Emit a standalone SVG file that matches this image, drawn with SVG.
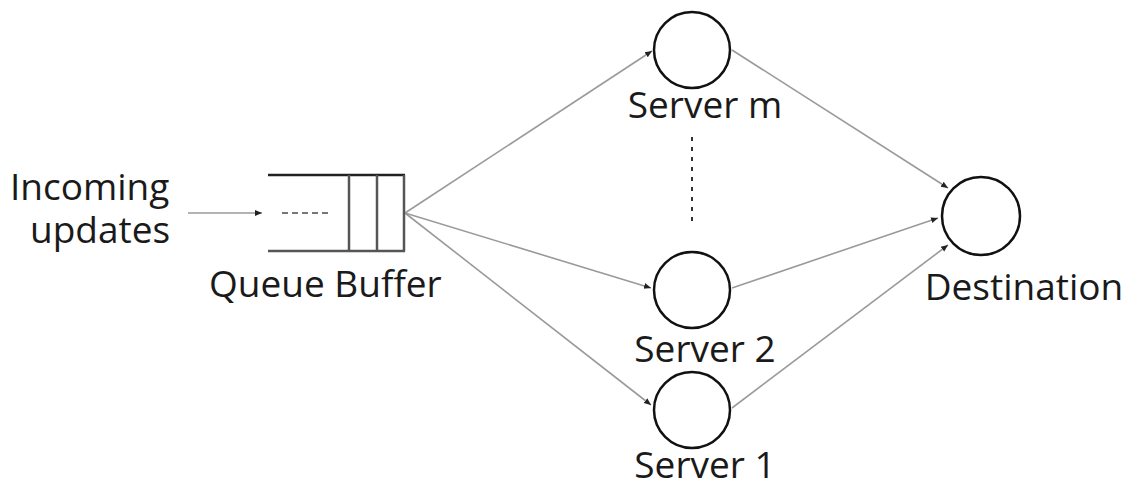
<svg xmlns="http://www.w3.org/2000/svg" width="1135" height="487" viewBox="0 0 1135 487">
  <style>
    .lbl { font-family: "Open Sans", "Liberation Sans", sans-serif; font-size: 37px; fill: #1a1a1a; }
    .node { fill: #ffffff; stroke: #111111; stroke-width: 2.5; }
    .edge { fill: none; stroke: #9a9a9a; stroke-width: 1.6; marker-end: url(#tip); }
    .buf { fill: none; stroke: #222222; stroke-width: 2.5; }
    .bufv { fill: none; stroke: #555555; stroke-width: 2.5; }
  </style>
  <defs>
    <marker id="tip" markerUnits="userSpaceOnUse" markerWidth="8" markerHeight="8" refX="7" refY="4" orient="auto">
      <path d="M0,1 L7,4 L0,7 Z" fill="#222222"/>
    </marker>
  </defs>
  <rect width="1135" height="487" fill="#ffffff"/>

  <!-- connectors -->
  <g id="connectors">
    <line class="edge" x1="188" y1="213" x2="262" y2="213"/>
    <line class="edge" x1="405" y1="213" x2="652" y2="51"/>
    <line class="edge" x1="405" y1="213" x2="651" y2="288"/>
    <line class="edge" x1="405" y1="213" x2="651" y2="405"/>
    <line class="edge" x1="732" y1="50" x2="948" y2="188"/>
    <line class="edge" x1="732" y1="288" x2="938" y2="218"/>
    <line class="edge" x1="732" y1="408" x2="948" y2="245"/>
  </g>

  <!-- incoming label, two lines -->
  <g id="incoming">
    <text class="lbl"><tspan x="10" y="200">Incoming</tspan><tspan x="30" y="243">updates</tspan></text>
  </g>

  <!-- queue buffer -->
  <g id="queue">
    <line class="buf" x1="268" y1="175" x2="405" y2="175"/>
    <line class="bufv" x1="268" y1="251" x2="405" y2="251"/>
    <line class="bufv" x1="349" y1="175" x2="349" y2="251"/>
    <line class="bufv" x1="377" y1="175" x2="377" y2="251"/>
    <line class="bufv" x1="404" y1="175" x2="404" y2="251"/>
    <line x1="282" y1="213" x2="330" y2="213" stroke="#777777" stroke-width="2" stroke-dasharray="6 4"/>
    <text class="lbl" x="209" y="297">Queue Buffer</text>
  </g>

  <!-- servers -->
  <g id="server-m">
    <circle class="node" cx="692" cy="50" r="38"/>
    <text class="lbl" x="705" y="118" text-anchor="middle">Server m</text>
  </g>
  <g id="ellipsis">
    <line x1="692" y1="137" x2="692" y2="225" stroke="#333333" stroke-width="2" stroke-dasharray="4 6"/>
  </g>
  <g id="server-2">
    <circle class="node" cx="692" cy="290" r="38"/>
    <text class="lbl" x="705" y="362" text-anchor="middle">Server 2</text>
  </g>
  <g id="server-1">
    <circle class="node" cx="692" cy="410" r="38"/>
    <text class="lbl" x="705" y="478" text-anchor="middle">Server 1</text>
  </g>

  <!-- destination -->
  <g id="destination">
    <circle class="node" cx="981" cy="216" r="39"/>
    <text class="lbl" x="1024" y="300" text-anchor="middle">Destination</text>
  </g>
</svg>
